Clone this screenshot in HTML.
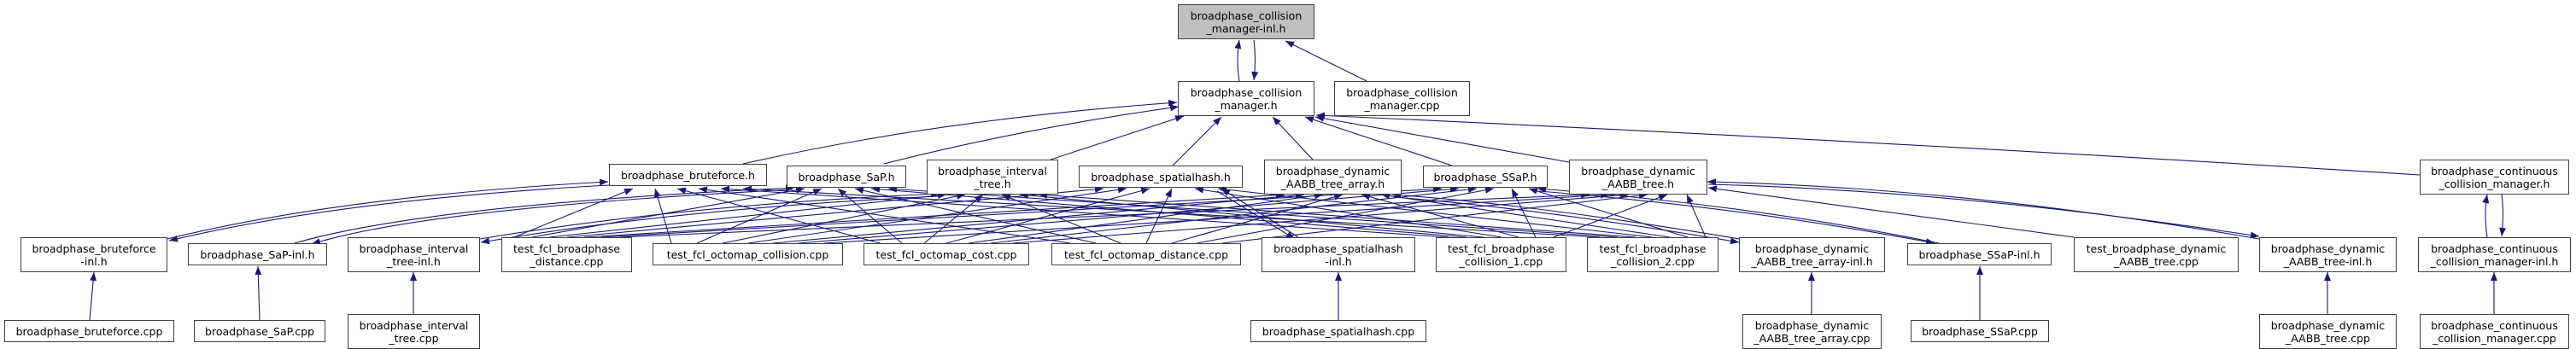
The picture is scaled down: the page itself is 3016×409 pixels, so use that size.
<!DOCTYPE html>
<html><head><meta charset="utf-8"><style>
body{margin:0;width:3016px;height:409px;background:#fff;position:relative;overflow:hidden;font-family:"DejaVu Sans","Liberation Sans",sans-serif}
.n{position:absolute;box-sizing:border-box;border:1.4px solid #404040;background:#fff;display:flex;align-items:center;justify-content:center;text-align:center;font-size:12.5px;line-height:15px;color:#000;white-space:nowrap}
.s{height:26px}.d{height:41px}
svg{position:absolute;left:0;top:0}
</style></head><body>
<svg width="3016" height="409">
<defs><marker id="a" markerWidth="10" markerHeight="8" refX="10" refY="4" orient="auto" markerUnits="userSpaceOnUse"><path d="M0,0 L10,4 L0,8 z" fill="#191970"/></marker></defs>
<g stroke="#191970" stroke-width="1.1" fill="none" marker-end="url(#a)">
<path d="M1451 95 Q1447 70 1451 47"/>
<path d="M1468 47 Q1471 70 1468 94"/>
<path d="M1600 95 L1505 48"/>
<path d="M870 192 Q1100 140 1378 120"/>
<path d="M1035 192 Q1200 150 1380 125"/>
<path d="M1230 187 L1386 136"/>
<path d="M1373 194 L1430 137"/>
<path d="M1537 187 L1490 137"/>
<path d="M1700 194 L1528 137"/>
<path d="M1837 190 L1540 137"/>
<path d="M2833 205 Q2200 165 1541 135"/>
<path d="M105 375 L110 319"/>
<path d="M304 375 L302 312"/>
<path d="M484 368 L484 319"/>
<path d="M1567 375 L1567 319"/>
<path d="M2121 368 L2121 319"/>
<path d="M2318 375 L2318 312"/>
<path d="M2725 368 L2725 319"/>
<path d="M2920 368 L2920 319"/>
<path d="M2912 278 Q2908 250 2912 228"/>
<path d="M2929 228 Q2932 250 2929 277"/>
<path d="M196 280 Q400 230 712 213"/>
<path d="M713 217 Q400 234 198 282"/>
<path d="M345 285 Q500 240 930 220"/>
<path d="M928 222 Q500 244 365 286"/>
<path d="M562 280 Q800 240 1100 227"/>
<path d="M1098 230 Q800 244 563 284"/>
<path d="M1520 278 L1430 221"/>
<path d="M1425 224 L1516 280"/>
<path d="M2036 280 Q1800 240 1630 228"/>
<path d="M1632 231 Q1800 244 2036 284"/>
<path d="M2270 285 Q2050 240 1800 221"/>
<path d="M1802 224 Q2050 244 2265 285"/>
<path d="M2645 280 Q2300 220 1999 213"/>
<path d="M2000 216 Q2300 224 2645 277"/>
<path d="M2428 278 L2000 220"/>
<path d="M602 278 L741 221"/><path d="M623 278 L942 221"/><path d="M643 278 L1108 228"/><path d="M664 278 L1292 221"/><path d="M684 278 L1504 228"/><path d="M704 278 L1688 221"/><path d="M725 278 L1861 228"/>
<path d="M786 285 L767 221"/><path d="M816 285 L962 221"/><path d="M846 285 L1130 228"/><path d="M876 285 L1319 221"/><path d="M905 285 L1527 228"/><path d="M935 285 L1708 221"/><path d="M965 285 L1884 228"/>
<path d="M1030 285 L793 221"/><path d="M1056 285 L981 221"/><path d="M1082 285 L1151 228"/><path d="M1108 285 L1346 221"/><path d="M1134 285 L1549 228"/><path d="M1160 285 L1729 221"/><path d="M1186 285 L1907 228"/>
<path d="M1253 285 L818 221"/><path d="M1283 285 L1001 221"/><path d="M1312 285 L1173 228"/><path d="M1342 285 L1372 221"/><path d="M1372 285 L1572 228"/><path d="M1401 285 L1749 221"/><path d="M1431 285 L1929 228"/>
<path d="M1696 278 L844 221"/><path d="M1717 278 L1020 221"/><path d="M1737 278 L1194 228"/><path d="M1758 278 L1399 221"/><path d="M1778 278 L1594 228"/><path d="M1798 278 L1770 221"/><path d="M1819 278 L1952 228"/>
<path d="M1873 278 L870 221"/><path d="M1894 278 L1040 221"/><path d="M1915 278 L1216 228"/><path d="M1935 278 L1426 221"/><path d="M1955 278 L1617 228"/><path d="M1976 278 L1790 221"/><path d="M1997 278 L1975 228"/>
</g></svg>
<div class="n d" style="left:1379px;top:5px;width:160px;background:#bfbfbf">broadphase_collision<br>_manager-inl.h</div>
<div class="n d" style="left:1379px;top:95px;width:160px">broadphase_collision<br>_manager.h</div>
<div class="n d" style="left:1562px;top:95px;width:159px">broadphase_collision<br>_manager.cpp</div>
<div class="n s" style="left:713px;top:192px;width:185px">broadphase_bruteforce.h</div>
<div class="n s" style="left:921px;top:194px;width:140px">broadphase_SaP.h</div>
<div class="n d" style="left:1085px;top:187px;width:154px">broadphase_interval<br>_tree.h</div>
<div class="n s" style="left:1263px;top:194px;width:192px">broadphase_spatialhash.h</div>
<div class="n d" style="left:1480px;top:187px;width:161px">broadphase_dynamic<br>_AABB_tree_array.h</div>
<div class="n s" style="left:1666px;top:194px;width:146px">broadphase_SSaP.h</div>
<div class="n d" style="left:1837px;top:187px;width:162px">broadphase_dynamic<br>_AABB_tree.h</div>
<div class="n d" style="left:2833px;top:187px;width:175px">broadphase_continuous<br>_collision_manager.h</div>
<div class="n d" style="left:24px;top:278px;width:172px">broadphase_bruteforce<br>-inl.h</div>
<div class="n s" style="left:220px;top:285px;width:163px">broadphase_SaP-inl.h</div>
<div class="n d" style="left:407px;top:278px;width:155px">broadphase_interval<br>_tree-inl.h</div>
<div class="n d" style="left:587px;top:278px;width:153px">test_fcl_broadphase<br>_distance.cpp</div>
<div class="n s" style="left:764px;top:285px;width:223px">test_fcl_octomap_collision.cpp</div>
<div class="n s" style="left:1011px;top:285px;width:194px">test_fcl_octomap_cost.cpp</div>
<div class="n s" style="left:1231px;top:285px;width:222px">test_fcl_octomap_distance.cpp</div>
<div class="n d" style="left:1477px;top:278px;width:180px">broadphase_spatialhash<br>-inl.h</div>
<div class="n d" style="left:1681px;top:278px;width:153px">test_fcl_broadphase<br>_collision_1.cpp</div>
<div class="n d" style="left:1858px;top:278px;width:154px">test_fcl_broadphase<br>_collision_2.cpp</div>
<div class="n d" style="left:2036px;top:278px;width:171px">broadphase_dynamic<br>_AABB_tree_array-inl.h</div>
<div class="n s" style="left:2233px;top:285px;width:169px">broadphase_SSaP-inl.h</div>
<div class="n d" style="left:2428px;top:278px;width:193px">test_broadphase_dynamic<br>_AABB_tree.cpp</div>
<div class="n d" style="left:2645px;top:278px;width:161px">broadphase_dynamic<br>_AABB_tree-inl.h</div>
<div class="n d" style="left:2831px;top:278px;width:179px">broadphase_continuous<br>_collision_manager-inl.h</div>
<div class="n s" style="left:5px;top:375px;width:199px">broadphase_bruteforce.cpp</div>
<div class="n s" style="left:227px;top:375px;width:154px">broadphase_SaP.cpp</div>
<div class="n d" style="left:407px;top:368px;width:155px">broadphase_interval<br>_tree.cpp</div>
<div class="n s" style="left:1464px;top:375px;width:206px">broadphase_spatialhash.cpp</div>
<div class="n d" style="left:2040px;top:368px;width:163px">broadphase_dynamic<br>_AABB_tree_array.cpp</div>
<div class="n s" style="left:2237px;top:375px;width:162px">broadphase_SSaP.cpp</div>
<div class="n d" style="left:2645px;top:368px;width:161px">broadphase_dynamic<br>_AABB_tree.cpp</div>
<div class="n d" style="left:2833px;top:368px;width:175px">broadphase_continuous<br>_collision_manager.cpp</div>
</body></html>
